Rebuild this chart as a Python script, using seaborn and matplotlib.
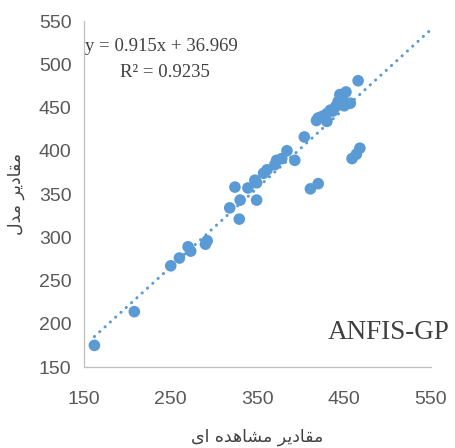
import matplotlib
matplotlib.use("Agg")
import matplotlib.pyplot as plt
import seaborn as sns
import pandas as pd

observed = [162, 208, 250, 260, 270, 273, 290, 292, 318, 324, 329, 330, 339, 347,
            349, 349, 357, 361, 370, 372, 378, 384, 393, 404, 411, 420, 418, 420,
            425, 430, 430, 434, 437, 440, 443, 445, 448, 450, 452, 457, 459, 464,
            468, 466]
modeled = [175, 214, 267, 276, 289, 284, 292, 296, 334, 358, 321, 343, 357, 366,
           343, 363, 374, 378, 384, 389, 391, 400, 389, 416, 356, 362, 435, 438,
           440, 443, 434, 447, 446, 451, 457, 465, 460, 452, 468, 455, 391, 396,
           403, 481]

slope = 0.915
intercept = 36.969
r2 = 0.9235
trend_end = 550

x_ticks = [150, 250, 350, 450, 550]
y_ticks = [150, 200, 250, 300, 350, 400, 450, 500, 550]

# persian labels, pre-shaped (presentation forms, visual order)
x_label = "\uFEEF\uFE8D \uFEE9\uFEAA\uFEEB\uFE8E\uFEB8\uFEE3 \uFEAE\uFEF3\uFEA9\uFE8E\uFED8\uFEE3"
y_label = "\uFEDD\uFEAA\uFEE3 \uFEAE\uFEF3\uFEA9\uFE8E\uFED8\uFEE3"

df = pd.DataFrame({"obs": observed, "mod": modeled})
tx = [min(observed), trend_end]
trend = pd.DataFrame({"x": tx, "y": [slope * v + intercept for v in tx]})

sns.set_style("white")
blue = "#5B9BD5"
grey = "#595959"
num_font = ["Liberation Sans Narrow", "Liberation Sans", "DejaVu Sans"]

fig = plt.figure(figsize=(4.55, 4.48), dpi=100)
ax = fig.add_axes([0.1846, 0.1808, 0.7626, 0.7722])

ax.plot(trend["x"], trend["y"], color=blue, lw=2.2,
        linestyle=(0, (0.05, 2.3)), dash_capstyle="round", zorder=1)
sns.scatterplot(data=df, x="obs", y="mod", ax=ax, color=blue, s=70,
                edgecolor="none", alpha=1, zorder=2)

ax.set_xlim(150, 550)
ax.set_ylim(150, 550)
ax.set_xticks(x_ticks)
ax.set_yticks(y_ticks)
for lab in ax.get_xticklabels() + ax.get_yticklabels():
    lab.set_family(num_font)
    lab.set_fontsize(14)
    lab.set_color(grey)
ax.tick_params(axis="both", direction="out", length=5, width=0.9, color="#BFBFBF")
ax.tick_params(axis="x", pad=12)
ax.tick_params(axis="y", pad=4)

for s in ["top", "right"]:
    ax.spines[s].set_visible(False)
for s in ["left", "bottom"]:
    ax.spines[s].set_color("#BFBFBF")
    ax.spines[s].set_linewidth(0.9)

ax.set_xlabel(x_label, family=["DejaVu Sans"], fontsize=12.5, color="#404040", labelpad=15)
ax.set_ylabel(y_label, family=["DejaVu Sans"], fontsize=12.5, color="#404040", labelpad=10)

serif = ["Liberation Serif", "DejaVu Serif"]
ax.text(0.003, 0.913, "y = 0.915x + 36.969", transform=ax.transAxes, va="baseline",
        family=serif, fontsize=13.5, color="#404040")
ax.text(0.104, 0.838, "R\u00b2 = " + str(r2), transform=ax.transAxes, va="baseline",
        family=serif, fontsize=13.5, color="#404040")
ax.text(1.055, 0.081, "ANFIS-GP", transform=ax.transAxes, ha="right", va="baseline",
        family=serif, fontsize=19.5, color="#404040")

fig.savefig("out.png", dpi=100)
